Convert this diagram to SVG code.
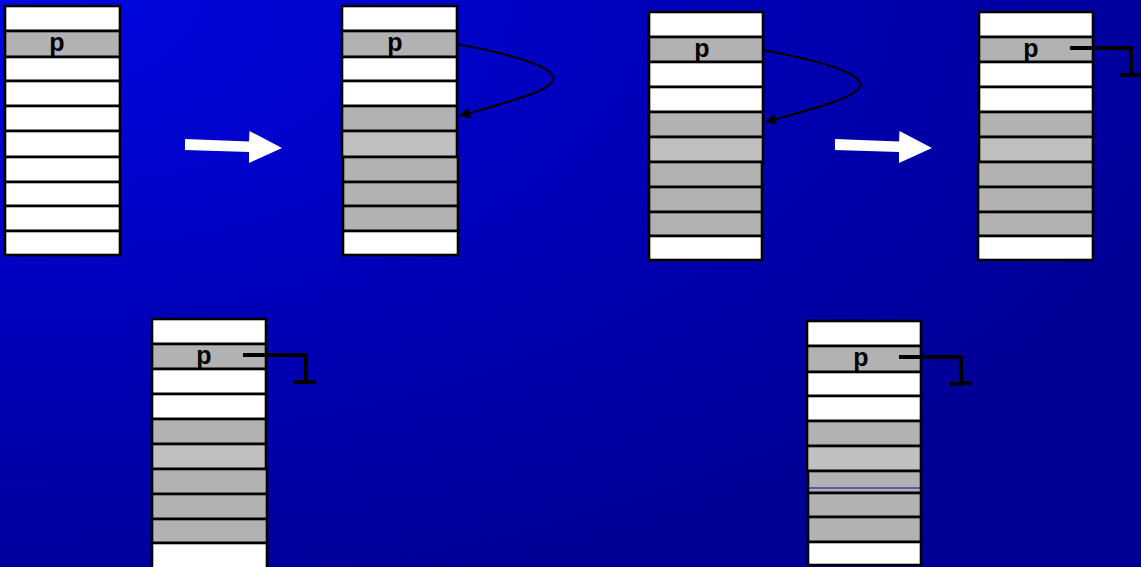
<svg xmlns="http://www.w3.org/2000/svg" width="1141" height="567" viewBox="0 0 1141 567">
<defs>
<radialGradient id="bg" gradientUnits="userSpaceOnUse" cx="0" cy="0" r="1" gradientTransform="translate(0,0) scale(1250,620)">
<stop offset="0" stop-color="#0008e4"/>
<stop offset="0.55" stop-color="#0000b8"/>
<stop offset="1" stop-color="#000096"/>
</radialGradient>
<marker id="ah" viewBox="0 0 10 10" refX="9" refY="5" markerWidth="6" markerHeight="5" orient="auto" markerUnits="strokeWidth">
<path d="M0,0 L10,5 L0,10 z" fill="#000"/>
</marker>
<style>
.w{fill:#ffffff;stroke:#000;stroke-width:2.6}
.g{fill:#b2b2b2;stroke:#000;stroke-width:2.6}
.l{fill:#c0c0c0;stroke:#000;stroke-width:2.6}
.p{font-family:"Liberation Sans",Arial,sans-serif;font-weight:bold;font-size:25px;fill:#000;text-anchor:middle}
.cur{fill:none;stroke:#000;stroke-width:2.2}
.nul{fill:none;stroke:#000;stroke-width:4}
.arr{fill:#fff}
</style>
</defs>
<rect width="1141" height="567" fill="url(#bg)"/>

<g id="stack1">
<rect class="w" x="5" y="6" width="115" height="25"/>
<rect class="g" x="5" y="31" width="115" height="26"/>
<rect class="w" x="5" y="57" width="115" height="24"/>
<rect class="w" x="5" y="81" width="115" height="25"/>
<rect class="w" x="5" y="106" width="115" height="25"/>
<rect class="w" x="5" y="131" width="115" height="26"/>
<rect class="w" x="5" y="157" width="115" height="25"/>
<rect class="w" x="5" y="182" width="115" height="24"/>
<rect class="w" x="5" y="206" width="115" height="25"/>
<rect class="w" x="5" y="231" width="115" height="24"/>
<text class="p" x="57" y="51">p</text>
</g>

<g id="arrow1">
<polygon class="arr" points="185,139 249,141.5 249.5,131 282,148 249,163 249,152 185,150"/>
</g>

<g id="stack2">
<rect class="w" x="342" y="6" width="115" height="25"/>
<rect class="g" x="342" y="31" width="115" height="26"/>
<rect class="w" x="342" y="57" width="115" height="24"/>
<rect class="w" x="342" y="81" width="115" height="25"/>
<rect class="g" x="342" y="106" width="115" height="25"/>
<rect class="l" x="342" y="131" width="115" height="26"/>
<rect class="g" x="343" y="157" width="115" height="25"/>
<rect class="g" x="343" y="182" width="115" height="24"/>
<rect class="g" x="343" y="206" width="115" height="25"/>
<rect class="w" x="343" y="231" width="115" height="24"/>
<text class="p" x="395" y="51">p</text>
</g>

<g id="stack3">
<rect class="w" x="649" y="12" width="114" height="25"/>
<rect class="g" x="649" y="37" width="114" height="25"/>
<rect class="w" x="649" y="62" width="114" height="25"/>
<rect class="w" x="649" y="87" width="114" height="25"/>
<rect class="g" x="649" y="112" width="114" height="25"/>
<rect class="l" x="649" y="137" width="114" height="25"/>
<rect class="g" x="649" y="162" width="113" height="25"/>
<rect class="g" x="649" y="187" width="113" height="25"/>
<rect class="g" x="649" y="212" width="113" height="24"/>
<rect class="w" x="649" y="236" width="113" height="24"/>
<text class="p" x="702" y="57">p</text>
</g>

<g id="arrow2">
<polygon class="arr" points="835,139 899,141.5 899.5,131 932,148 899,163 899,152 835,150"/>
</g>

<g id="stack4">
<rect class="w" x="979" y="12" width="114" height="25"/>
<rect class="g" x="979" y="37" width="114" height="25"/>
<rect class="w" x="979" y="62" width="114" height="25"/>
<rect class="w" x="979" y="87" width="114" height="25"/>
<rect class="g" x="979" y="112" width="114" height="25"/>
<rect class="l" x="979" y="137" width="114" height="25"/>
<rect class="g" x="978" y="162" width="115" height="25"/>
<rect class="g" x="978" y="187" width="115" height="25"/>
<rect class="g" x="978" y="212" width="115" height="24"/>
<rect class="w" x="978" y="236" width="115" height="24"/>
<text class="p" x="1031" y="57">p</text>
</g>

<g id="stack5">
<rect class="w" x="152" y="319" width="114" height="25"/>
<rect class="g" x="152" y="344" width="114" height="25"/>
<rect class="w" x="152" y="369" width="114" height="25"/>
<rect class="w" x="152" y="394" width="114" height="25"/>
<rect class="g" x="152" y="419" width="114" height="25"/>
<rect class="l" x="152" y="444" width="114" height="25"/>
<rect class="g" x="152" y="469" width="115" height="25"/>
<rect class="g" x="152" y="494" width="115" height="25"/>
<rect class="g" x="152" y="519" width="115" height="24"/>
<rect class="w" x="152" y="543" width="115" height="26"/>
<text class="p" x="204" y="364">p</text>
</g>

<g id="stack6">
<rect class="w" x="807" y="321" width="114" height="25"/>
<rect class="g" x="807" y="346" width="114" height="26"/>
<rect class="w" x="807" y="372" width="114" height="24"/>
<rect class="w" x="807" y="396" width="114" height="25"/>
<rect class="g" x="807" y="421" width="114" height="25"/>
<rect class="l" x="807" y="446" width="114" height="25"/>
<rect class="g" x="808" y="471" width="113" height="22"/>
<line x1="808" y1="488" x2="920" y2="488" stroke="#0000b0" stroke-width="1"/>
<rect class="g" x="808" y="493" width="113" height="24"/>
<rect class="g" x="808" y="517" width="113" height="25"/>
<rect class="w" x="808" y="542" width="113" height="23"/>
<text class="p" x="861" y="366">p</text>
</g>

<g id="connectors">
<path class="cur" marker-end="url(#ah)" d="M457,44 C520,56 556,68 553,80 C550,92 500,104 460,116"/>
<path class="cur" marker-end="url(#ah)" d="M763,50 C826,62 863,74 860,86 C857,98 808,110 766,122"/>
<path class="nul" d="M1070,48 H1131 V75 M1120,75 H1141"/>
<path class="nul" d="M243,355 H306 V382 M293,382 H316"/>
<path class="nul" d="M899,357 H961 V383 M949,384 L972,383"/>
</g>
</svg>
